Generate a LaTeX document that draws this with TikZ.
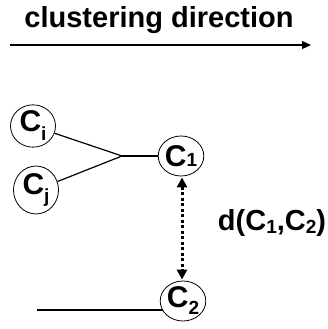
\documentclass[tikz,border=0pt]{standalone}
\usepackage{fontspec}
\setmainfont{Liberation Sans}
\usetikzlibrary{arrows.meta,shapes.geometric}
\newcommand\mysub[2]{\raisebox{#2}{\fontsize{19}{19}\selectfont #1}}
\begin{document}
\begin{tikzpicture}[x=1pt,y=1pt,
  cl/.style={draw, ellipse, minimum width=45pt, minimum height=40pt, inner sep=0pt,
    line width=0.8pt, font=\bfseries\fontsize{30}{30}\selectfont},
  link/.style={line width=1.2pt},
  big/.style={font=\bfseries\fontsize{29}{30}\selectfont}]
\useasboundingbox (0,0) rectangle (328,329);
% title and direction arrow
\node[big, anchor=base] (title) at (159,301) {clustering direction};
\coordinate (a0) at (10,284);
\coordinate (a1) at (311,284);
\draw[line width=1.3pt, -{Triangle[length=9pt,width=8pt]}] (a0) -- (a1);
% clusters
\node[cl] (Ci) at (33,203) {C\mysub{i}{-9pt}};
\node[cl] (Cj) at (36,139) {C\mysub{j}{-9pt}};
\node[cl] (C1) at (181,173) {C\mysub{1}{0pt}};
\node[cl] (C2) at (183,28) {C\mysub{2}{-7pt}};
\coordinate (J) at (122,173);
\draw[link] (Ci) -- (J);
\draw[link] (Cj) -- (J);
\draw[link] (J) -- (C1);
\coordinate (L) at (37,19);
\draw[link] (L) -- (L -| C2.205);
% distance arrow
\draw[line width=3pt, dash pattern=on 3pt off 2.5pt,
  {Triangle[length=10pt,width=10pt]}-{Triangle[length=10pt,width=10pt]},
  shorten <=1pt, shorten >=1pt] (C1.south -| 182,0) -- (C2.north -| 182,0);
\node[big, anchor=base] (d) at (272,98) {d(C\mysub{1}{-3pt},C\mysub{2}{-3pt})};
\end{tikzpicture}
\end{document}
